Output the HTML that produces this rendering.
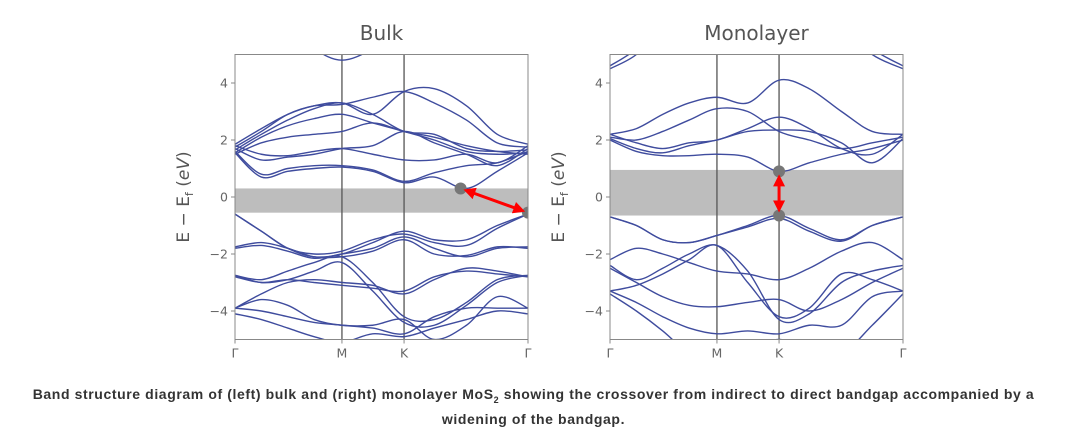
<!DOCTYPE html>
<html><head><meta charset="utf-8"><style>
body{margin:0;width:1067px;height:436px;background:#fff;overflow:hidden;font-family:"Liberation Sans",sans-serif}
#cap{position:absolute;left:0;top:385px;width:1067px;text-align:center;font-weight:bold;font-size:14px;letter-spacing:0.6px;line-height:19px;color:#333;white-space:nowrap}
</style></head><body>
<svg id="chart" width="1067" height="380" style="position:absolute;left:0;top:0" font-family="DejaVu Sans, Liberation Sans, sans-serif"></svg>
<div id="cap">Band structure diagram of (left) bulk and (right) monolayer MoS<sub style="font-size:9px">2</sub> showing the crossover from indirect to direct bandgap accompanied by a<br>widening of the bandgap.</div>
<script>
const kPoints=[0,0.09,0.18,0.27,0.365,0.47,0.577,0.68,0.79,0.895,1];
const kLabels=["Γ","M","K","Γ"];
const kLabelPos=[0,0.365,0.577,1];
const yTicks=[-4,-2,0,2,4];
const bulkBands=[
[1.55,0.7,0.9,1.0,1.05,0.9,0.5,0.7,0.3,0.9,1.55],
[1.6,0.8,1.0,1.1,1.1,0.95,0.55,0.85,1.1,1.2,1.6],
[1.7,1.3,1.4,1.5,1.7,1.8,2.3,1.9,1.5,1.1,1.7],
[1.8,1.5,1.45,1.6,1.7,1.5,1.3,1.3,1.5,1.2,1.8],
[1.55,2.1,2.5,2.75,2.9,2.6,2.3,2.0,1.6,1.5,1.55],
[1.65,2.2,2.7,3.1,3.3,2.9,2.3,2.2,1.7,1.6,1.65],
[1.75,2.3,2.9,3.2,3.25,3.5,3.7,3.3,2.7,1.9,1.75],
[1.85,2.4,2.9,3.2,3.3,2.9,3.7,3.8,3.2,2.2,1.85],
[8,7,6,5.2,4.8,5.2,6,7,8,8,8],
[1.5,1.9,2.1,2.2,2.3,2.6,2.3,2.1,1.8,1.6,1.5],
[-0.6,-1.2,-1.8,-2.1,-2.0,-1.6,-1.2,-1.5,-1.5,-1.0,-0.6],
[-0.6,-1.2,-1.8,-2.0,-1.9,-1.5,-1.3,-1.6,-1.7,-1.1,-0.6],
[-1.8,-1.7,-1.9,-2.15,-2.0,-1.8,-1.4,-1.8,-2.1,-1.8,-1.75],
[-1.75,-1.6,-1.8,-2.1,-2.1,-1.9,-1.5,-2.0,-2.05,-1.75,-1.8],
[-2.75,-3.0,-2.9,-2.6,-2.3,-3.3,-4.4,-4.5,-3.8,-3.0,-2.75],
[-2.75,-2.9,-2.6,-2.3,-2.1,-3.0,-4.2,-4.3,-3.7,-2.9,-2.75],
[-2.8,-3.0,-2.9,-3.0,-3.1,-3.2,-3.3,-2.8,-2.6,-2.7,-2.8],
[-3.9,-3.4,-3.0,-2.9,-3.0,-3.1,-3.4,-2.9,-2.5,-2.6,-2.8],
[-3.9,-4.0,-4.2,-4.4,-4.5,-4.6,-4.8,-4.2,-3.9,-3.9,-3.9],
[-4.1,-4.3,-4.6,-4.9,-5.1,-4.8,-4.9,-4.6,-4.3,-4.0,-4.1],
[-3.9,-3.6,-3.8,-4.3,-4.5,-4.5,-4.3,-5.0,-4.5,-3.5,-3.9]];
const monoBands=[
[2.0,1.6,1.45,1.45,1.5,1.4,0.9,1.2,1.5,1.7,2.0],
[2.1,2.0,2.3,2.7,3.1,3.0,2.3,2.0,1.7,1.9,2.1],
[2.2,2.4,2.9,3.3,3.5,3.3,4.1,3.8,3.0,2.3,2.2],
[2.2,1.9,1.7,1.9,2.0,2.4,2.8,2.4,1.7,1.5,2.2],
[2.05,1.7,1.55,1.8,2.0,2.3,2.35,2.3,1.9,1.2,2.05],
[4.5,5,6,7,7,7,7,7,6,5,4.5],
[4.6,5.2,6.2,7,7,7,7,7,6.2,5.2,4.6],
[-0.7,-1.0,-1.5,-1.6,-1.35,-1.0,-0.65,-1.1,-1.5,-1.0,-0.7],
[-0.7,-1.0,-1.5,-1.6,-1.35,-1.05,-0.75,-1.2,-1.55,-1.0,-0.7],
[-2.2,-1.8,-2.0,-2.3,-2.6,-2.7,-2.9,-2.5,-1.9,-1.6,-2.2],
[-2.4,-2.9,-2.5,-2.0,-1.7,-2.6,-4.3,-4.1,-3.0,-2.6,-2.4],
[-3.3,-3.1,-2.7,-2.2,-1.7,-3.0,-4.2,-3.9,-2.7,-2.9,-3.3],
[-2.5,-3.0,-3.5,-3.8,-3.85,-3.7,-3.6,-4.0,-3.6,-3.0,-2.5],
[-3.3,-3.7,-4.2,-4.6,-4.8,-4.7,-4.8,-4.5,-4.5,-3.5,-3.3],
[-3.4,-4.0,-4.7,-5.5,-6,-5.5,-5,-5.5,-5.5,-4.5,-3.4]];
const bulkGap=[-0.55,0.3];
const monoGap=[-0.65,0.95];
const bulkDots=[[0.77,0.3],[1,-0.55]];
const monoDots=[[0.577,0.9],[0.577,-0.65]];

const NS="http://www.w3.org/2000/svg";
const svg=document.getElementById('chart');
function mk(t,a,p){const e=document.createElementNS(NS,t);for(const k in a)e.setAttribute(k,a[k]);(p||svg).appendChild(e);return e;}
const defs=mk('defs',{});
const mkr=mk('marker',{id:'ah',markerWidth:4,markerHeight:4,refX:2,refY:2,orient:'auto-start-reverse'},defs);
mk('path',{d:'M0,0L4,2L0,4z',fill:'#f00'},mkr);

function panel(x0,x1,title,bands,gap,dots,id){
  const y0=54.5,y1=339.5;
  const X=k=>x0+k*(x1-x0), Y=v=>197-v*28.5;
  const g=mk('g',{});
  
  
  const cp=mk('clipPath',{id:'c'+id},defs);
  mk('rect',{x:x0,y:y0,width:x1-x0,height:y1-y0},cp);
  const gr=mk('rect',{x:x0,y:Y(gap[1]),width:x1-x0,height:Y(gap[0])-Y(gap[1]),fill:'#bdbdbd'},g);
  
  
  kLabelPos.slice(1,3).forEach(k=>mk('line',{x1:X(k),x2:X(k),y1:y0,y2:y1,stroke:'#555','stroke-width':1.3},g));
  const bg=mk('g',{'clip-path':'url(#c'+id+')'},g);
  bands.forEach((b,i)=>{
    const p=b.map((v,j)=>[X(kPoints[j]),Y(v)]);
    let d='M'+p[0][0]+','+p[0][1];
    for(let j=0;j<p.length-1;j++){
      const a=p[j-1]||p[j],b0=p[j],c=p[j+1],e=p[j+2]||c;
      d+=`C${b0[0]+(c[0]-a[0])/6},${b0[1]+(c[1]-a[1])/6} ${c[0]-(e[0]-b0[0])/6},${c[1]-(e[1]-b0[1])/6} ${c[0]},${c[1]}`;
    }
    const pa=mk('path',{d:d,fill:'none',stroke:'#3f4c9e','stroke-width':1.4},bg);
    
    
  });
  dots.forEach(dt=>{
    const c=mk('circle',{cx:X(dt[0]),cy:Y(dt[1]),r:6,fill:'#777'},bg);
    
    
  });
  const ax=X(dots[0][0]),ay=Y(dots[0][1]),bx=X(dots[1][0]),by=Y(dots[1][1]);
  const L=Math.hypot(bx-ax,by-ay),ux=(bx-ax)/L,uy=(by-ay)/L;
  const ar=mk('line',{x1:ax+ux*9,y1:ay+uy*9,x2:bx-ux*9,y2:by-uy*9,stroke:'#f00','stroke-width':3,'marker-start':'url(#ah)','marker-end':'url(#ah)'},g);
  
  
  mk('rect',{x:x0,y:y0,width:x1-x0,height:y1-y0,fill:'none',stroke:'#888','stroke-width':1},g);
  yTicks.forEach(t=>{
    mk('line',{x1:x0-4,x2:x0,y1:Y(t),y2:Y(t),stroke:'#888'},g);
    const tx=mk('text',{x:x0-7,y:Y(t)+4.5,'text-anchor':'end','font-size':12.5,fill:'#666'},g);
    tx.textContent=t<0?'−'+(-t):t;
    
    
  });
  kLabels.forEach((l,i)=>{
    mk('line',{x1:X(kLabelPos[i]),x2:X(kLabelPos[i]),y1:y1,y2:y1+4,stroke:'#888'},g);
    const tx=mk('text',{x:X(kLabelPos[i]),y:y1+18,'text-anchor':'middle','font-size':12.5,fill:'#666'},g);
    tx.textContent=l;
    
    
  });
  const ti=mk('text',{x:(x0+x1)/2,y:40,'text-anchor':'middle','font-size':20,fill:'#555'},g);
  ti.textContent=title;
  
  
  const yl=mk('text',{x:0,y:0,transform:`translate(${x0-46},197) rotate(-90)`,'text-anchor':'middle','font-size':17,fill:'#555'},g);
  yl.innerHTML='E − E<tspan font-size="11" dy="4">f</tspan><tspan dy="-4">    (</tspan><tspan font-style="italic">eV</tspan>)';
  yl.setAttribute('xml:space','preserve');
  
  
}
panel(235,528,'Bulk',bulkBands,bulkGap,bulkDots,'bulk');
panel(610,903,'Monolayer',monoBands,monoGap,monoDots,'monolayer');
</script>
</body></html>
